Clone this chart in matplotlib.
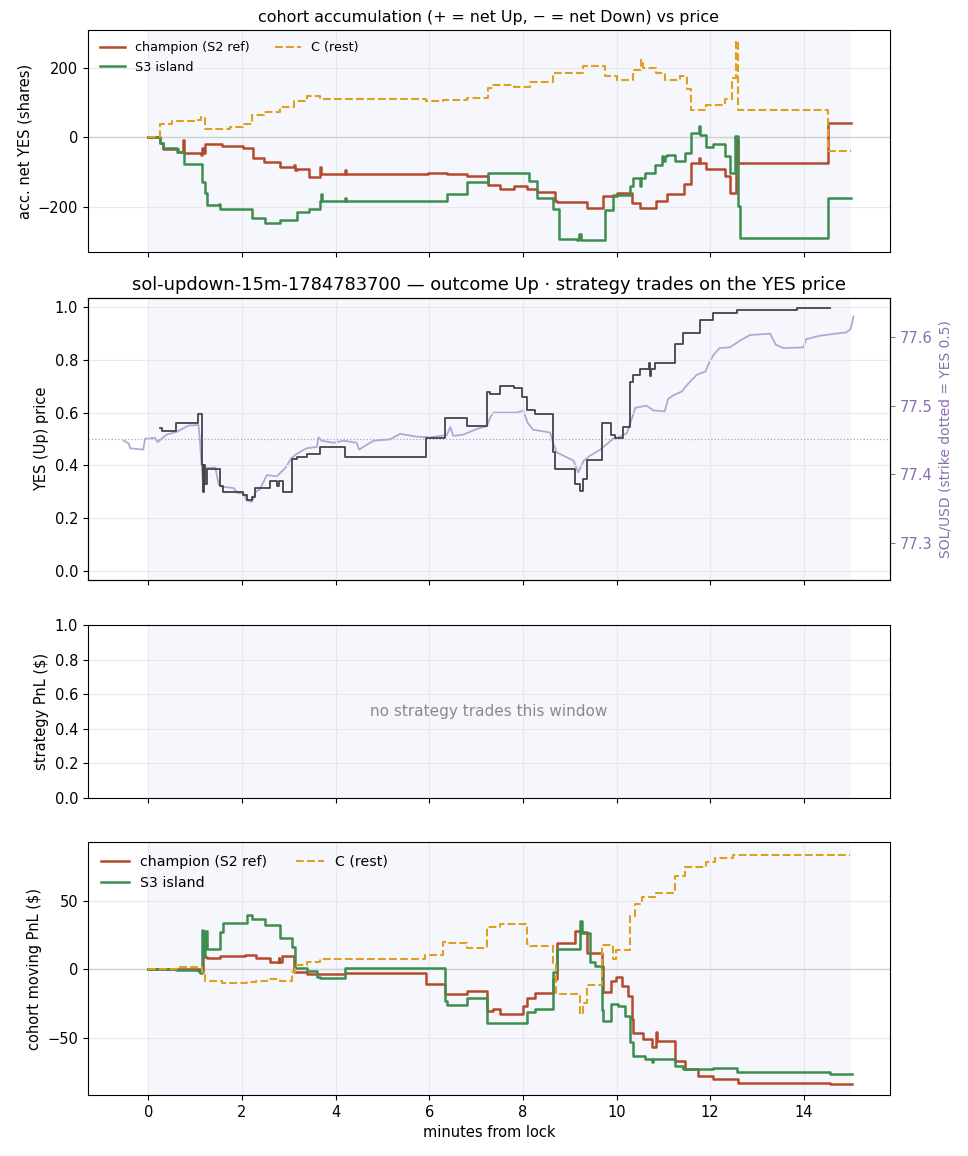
import matplotlib
matplotlib.use("Agg")
import matplotlib.pyplot as plt

# ---------------- data ----------------
# panel 1: accumulated net YES shares (step-post breakpoints)
acc_champ_t = [0, 0.24, 0.32, 0.64, 0.74, 0.76, 1.12, 1.14, 1.17, 1.21, 1.57, 2.03, 2.24, 2.46, 2.81, 3.10, 3.13, 3.17, 3.42, 3.67, 3.69, 4.20, 4.22, 5.98, 6.37, 6.80, 7.26, 7.51, 7.80, 8.08, 8.29, 8.69, 8.72, 9.36, 9.72, 10.0, 10.32, 10.50, 10.85, 11.07, 11.43, 11.60, 11.75, 11.78, 11.92, 12.31, 12.42, 12.56, 12.60, 14.52, 15.0]
acc_champ_v = [0, -16, -35, -43, -7, -45, -50, -30, -45, -21, -26, -30, -59, -72, -85, -80, -95, -93, -115, -85, -107, -95, -107, -102, -107, -112, -139, -148, -140, -150, -159, -183, -186, -203, -170, -162, -189, -203, -183, -165, -136, -75, -60, -75, -91, -112, -160, -6, -75, 41, 41]

acc_s3_t = [0, 0.24, 0.32, 0.61, 0.75, 1.14, 1.20, 1.25, 1.50, 1.53, 2.21, 2.49, 2.81, 3.17, 3.42, 3.67, 3.68, 3.70, 4.20, 4.22, 6.37, 6.80, 7.26, 8.12, 8.29, 8.65, 8.76, 9.15, 9.20, 9.23, 9.75, 9.93, 10.29, 10.36, 10.50, 10.52, 10.61, 10.82, 10.96, 11.00, 11.03, 11.07, 11.25, 11.46, 11.58, 11.75, 11.78, 11.92, 12.07, 12.31, 12.42, 12.53, 12.60, 12.63, 14.52, 15.0]
acc_s3_v = [0, -16, -30, -43, -78, -130, -160, -196, -192, -206, -234, -246, -238, -215, -208, -184, -165, -184, -175, -184, -165, -129, -104, -126, -174, -208, -294, -296, -280, -296, -211, -167, -140, -117, -140, -117, -104, -79, -55, -70, -55, -50, -69, -45, 12, 31, 7, -27, -21, -55, -104, 2, -199, -292, -174, -174]

acc_c_t = [0, 0.24, 0.50, 1.05, 1.12, 1.21, 1.75, 2.03, 2.21, 2.46, 2.81, 3.10, 3.38, 3.67, 5.94, 6.30, 6.80, 7.26, 7.37, 7.80, 8.15, 8.65, 9.29, 9.75, 10.0, 10.36, 10.53, 10.56, 10.85, 11.03, 11.36, 11.50, 11.58, 11.92, 12.31, 12.46, 12.55, 12.60, 14.52, 15.0]
acc_c_v = [0, 37, 46, 49, 57, 24, 30, 37, 65, 74, 88, 104, 118, 110, 104, 108, 113, 142, 151, 145, 160, 185, 206, 176, 166, 195, 223, 199, 185, 166, 176, 138, 78, 94, 109, 171, 276, 78, -40, -40]

# panel 2: YES (Up) price and SOL/USD
yes_t = [0.24, 0.29, 0.59, 1.07, 1.14, 1.16, 1.18, 1.20, 1.25, 1.53, 1.60, 2.03, 2.10, 2.21, 2.28, 2.60, 2.75, 2.80, 2.88, 3.06, 3.17, 3.38, 3.67, 4.20, 5.94, 6.34, 6.80, 7.23, 7.30, 7.51, 7.80, 7.97, 8.08, 8.26, 8.65, 8.68, 9.11, 9.22, 9.29, 9.36, 9.68, 9.89, 9.97, 10.14, 10.29, 10.36, 10.50, 10.70, 10.72, 10.74, 10.82, 11.25, 11.42, 11.78, 12.06, 12.57, 13.85, 14.56]
yes_p = [0.543, 0.53, 0.562, 0.594, 0.40, 0.30, 0.40, 0.33, 0.387, 0.323, 0.30, 0.287, 0.269, 0.278, 0.313, 0.34, 0.32, 0.34, 0.30, 0.425, 0.432, 0.444, 0.47, 0.432, 0.502, 0.581, 0.549, 0.678, 0.672, 0.70, 0.693, 0.658, 0.61, 0.594, 0.45, 0.385, 0.33, 0.304, 0.349, 0.419, 0.562, 0.515, 0.504, 0.546, 0.718, 0.744, 0.767, 0.79, 0.74, 0.767, 0.788, 0.862, 0.904, 0.951, 0.979, 0.99, 0.997, 0.997]

sol_t = [-0.53, -0.42, -0.39, -0.11, -0.07, 0.14, 0.20, 0.25, 0.39, 0.61, 0.85, 1.07, 1.10, 1.15, 1.18, 1.21, 1.43, 1.50, 1.57, 1.82, 1.90, 2.03, 2.10, 2.21, 2.30, 2.38, 2.53, 2.74, 2.92, 3.06, 3.17, 3.38, 3.60, 3.63, 3.70, 3.95, 4.17, 4.45, 4.50, 4.59, 4.81, 5.16, 5.38, 5.73, 6.02, 6.37, 6.45, 6.51, 6.73, 7.01, 7.23, 7.30, 7.37, 7.87, 8.01, 8.10, 8.22, 8.58, 8.65, 8.72, 9.08, 9.18, 9.30, 9.43, 9.65, 9.93, 10.10, 10.22, 10.32, 10.40, 10.64, 10.79, 11.03, 11.10, 11.21, 11.40, 11.50, 11.71, 11.90, 11.96, 12.07, 12.20, 12.42, 12.64, 12.85, 13.28, 13.40, 13.56, 13.99, 14.05, 14.34, 14.91, 15.00, 15.06]
sol_p = [77.449, 77.445, 77.438, 77.436, 77.452, 77.453, 77.447, 77.450, 77.458, 77.462, 77.471, 77.472, 77.45, 77.40, 77.375, 77.409, 77.41, 77.385, 77.382, 77.38, 77.373, 77.372, 77.362, 77.36, 77.375, 77.378, 77.399, 77.397, 77.409, 77.424, 77.43, 77.438, 77.44, 77.454, 77.449, 77.446, 77.449, 77.446, 77.436, 77.44, 77.449, 77.451, 77.459, 77.455, 77.454, 77.457, 77.469, 77.456, 77.458, 77.466, 77.47, 77.483, 77.49, 77.49, 77.493, 77.475, 77.465, 77.461, 77.445, 77.432, 77.42, 77.403, 77.42, 77.427, 77.436, 77.452, 77.456, 77.46, 77.48, 77.497, 77.5, 77.493, 77.492, 77.51, 77.515, 77.521, 77.53, 77.545, 77.55, 77.56, 77.574, 77.584, 77.585, 77.595, 77.603, 77.605, 77.589, 77.584, 77.585, 77.597, 77.602, 77.607, 77.612, 77.63]
strike = 77.453

# panel 4: cohort moving PnL ($)
pnl_champ_t = [0, 1.10, 1.17, 1.25, 1.53, 1.60, 2.06, 2.30, 2.60, 2.78, 2.80, 2.85, 3.10, 3.38, 4.20, 5.94, 6.34, 6.80, 7.23, 7.37, 7.51, 8.01, 8.08, 8.26, 8.65, 8.72, 9.11, 9.22, 9.36, 9.68, 9.72, 9.89, 9.99, 10.11, 10.25, 10.32, 10.36, 10.57, 10.75, 10.84, 10.86, 11.25, 11.46, 11.74, 12.07, 12.60, 14.56, 15.02]
pnl_champ_v = [0, -2, 9, 8, 9.3, 9.8, 10.5, 8, 5.6, 8, 5.6, 9.3, -2, -3.7, -3, -10.5, -18, -16, -30.5, -29, -33, -27, -21, -17.6, -7, 19, 28.2, 27, 11.6, 2, -17, -8.5, -6, -12, -19.6, -36.6, -46.4, -51, -57, -46, -52.5, -67.3, -72.9, -77.8, -80.2, -83.2, -84, -84]

pnl_s3_t = [0, 0.60, 1.05, 1.10, 1.14, 1.17, 1.20, 1.25, 1.53, 1.60, 2.10, 2.21, 2.49, 2.81, 3.06, 3.13, 3.38, 3.60, 3.67, 4.20, 6.34, 6.37, 6.80, 7.23, 8.08, 8.26, 8.65, 8.72, 9.20, 9.22, 9.27, 9.43, 9.54, 9.68, 9.72, 9.89, 10.04, 10.18, 10.29, 10.36, 10.61, 10.75, 10.77, 11.25, 11.42, 12.07, 12.20, 12.57, 14.56, 15.02]
pnl_s3_v = [0, -0.5, -1, -3, 29, 10, 28, 15, 27, 33.6, 39.5, 37, 32, 23, 16, 1.2, -1.2, -6, -6.8, 1, -23, -26, -21, -39, -31.3, -28.8, -2, 14.7, 14.7, 35.4, 26.1, 5.4, 2.4, -30, -37.8, -25.6, -27, -34, -53.6, -63.5, -66, -68, -66, -70.9, -72.9, -72.5, -72, -75, -77, -77]

pnl_c_t = [0, 0.05, 0.61, 1.14, 1.21, 1.57, 2.10, 2.30, 2.53, 2.81, 3.06, 3.13, 3.38, 3.67, 5.91, 6.30, 6.37, 6.80, 7.23, 7.51, 8.08, 8.15, 8.65, 8.70, 9.22, 9.29, 9.36, 9.68, 9.93, 9.99, 10.29, 10.39, 10.54, 10.82, 11.25, 11.46, 11.92, 12.10, 12.49, 14.98]
pnl_c_v = [0, 0.5, 1.7, -2.4, -8.5, -9.8, -9.5, -8.5, -7, -8.5, -2.4, 2.9, 4.9, 7.8, 10.5, 19.6, 19, 15.4, 30.6, 33, 18.3, 17, 3, -18.3, -33, -25, -11.7, 17.6, 7.3, 13.9, 39, 47.6, 52.5, 56, 68, 74.5, 78.7, 81, 83.6, 83.6]

cohort_names = ["champion (S2 ref)", "S3 island", "C (rest)"]
win_start, win_end = 0, 15

# ---------------- style ----------------
C_RED = "#b4492b"
C_GREEN = "#3d8e4e"
C_GOLD = "#dea01e"
C_DARK = "#444444"
C_LAV = "#b7a5d5"
C_PURP = "#8c6eaf"
SPAN = "#f5f7fc"
GRID = "#e8e8ec"
TICK = 10.5
LAB = 10.5

fig = plt.figure(figsize=(9.68, 11.56), dpi=100)
L, W = 88 / 968, (890 - 88) / 968
H = 1156
def box(top, bot):
    return [L, 1 - bot / H, W, (bot - top) / H]

ax1 = fig.add_axes(box(30, 252))
ax2 = fig.add_axes(box(298, 580), sharex=ax1)
ax3 = fig.add_axes(box(625, 798), sharex=ax1)
ax4 = fig.add_axes(box(842, 1095), sharex=ax1)
ax2r = ax2.twinx()

# shaded window (on the twin for panel 2 so the SOL line stays visible)
for ax in (ax1, ax2r, ax3, ax4):
    ax.axvspan(win_start, win_end, color=SPAN, zorder=0, lw=0)
for ax in (ax1, ax2, ax3, ax4):
    ax.grid(True, color=GRID, lw=0.8, zorder=1)
    ax.set_axisbelow(True)
    ax.tick_params(labelsize=TICK)

# panel 1
ax1.axhline(0, color="#d0d0d0", lw=1.0, zorder=2)
ax1.plot(acc_champ_t, acc_champ_v, drawstyle="steps-post", color=C_RED, lw=1.8, label=cohort_names[0], zorder=3)
ax1.plot(acc_s3_t, acc_s3_v, drawstyle="steps-post", color=C_GREEN, lw=1.8, label=cohort_names[1], zorder=3)
ax1.plot(acc_c_t, acc_c_v, drawstyle="steps-post", color=C_GOLD, lw=1.5, ls="--", label=cohort_names[2], zorder=3)
ax1.set_ylim(-331, 309)
ax1.set_yticks([-200, 0, 200])
ax1.set_ylabel("acc. net YES (shares)", fontsize=LAB)
ax1.set_title("cohort accumulation (+ = net Up, \u2212 = net Down) vs price", fontsize=11.4)
ax1.legend(loc="upper left", ncol=2, fontsize=9.2, frameon=False)

# panel 2
ax2r.plot(sol_t, sol_p, color=C_LAV, lw=1.3, zorder=3)
ax2r.set_ylim(77.246, 77.657)
ax2r.set_yticks([77.3, 77.4, 77.5, 77.6])
ax2r.tick_params(axis="y", colors=C_PURP, labelsize=TICK)
ax2r.set_ylabel("SOL/USD (strike dotted = YES 0.5)", color=C_PURP, fontsize=10)
ax2.set_zorder(ax2r.get_zorder() + 1)
ax2.patch.set_visible(False)
ax2.axhline(0.5, color="#aaaaaa", lw=0.9, ls=":", zorder=2)
ax2.plot(yes_t, yes_p, drawstyle="steps-post", color=C_DARK, lw=1.3, zorder=4)
ax2.set_ylim(-0.036, 1.036)
ax2.set_yticks([0, 0.2, 0.4, 0.6, 0.8, 1.0])
ax2.set_ylabel("YES (Up) price", fontsize=LAB)
ax2.set_title("sol-updown-15m-1784783700 \u2014 outcome Up \u00b7 strategy trades on the YES price", fontsize=12.9)

# panel 3
ax3.set_ylim(0, 1)
ax3.set_yticks([0, 0.2, 0.4, 0.6, 0.8, 1.0])
ax3.set_ylabel("strategy PnL ($)", fontsize=LAB)
ax3.text(0.5, 0.5, "no strategy trades this window", transform=ax3.transAxes,
         ha="center", va="center", color="#8a8a8a", fontsize=11)

# panel 4
ax4.axhline(0, color="#d0d0d0", lw=1.0, zorder=2)
ax4.plot(pnl_champ_t, pnl_champ_v, drawstyle="steps-post", color=C_RED, lw=1.8, label=cohort_names[0], zorder=3)
ax4.plot(pnl_s3_t, pnl_s3_v, drawstyle="steps-post", color=C_GREEN, lw=1.8, label=cohort_names[1], zorder=3)
ax4.plot(pnl_c_t, pnl_c_v, drawstyle="steps-post", color=C_GOLD, lw=1.5, ls="--", label=cohort_names[2], zorder=3)
ax4.set_ylim(-92, 93)
ax4.set_yticks([-50, 0, 50])
ax4.set_ylabel("cohort moving PnL ($)", fontsize=LAB)
ax4.set_xlabel("minutes from lock", fontsize=LAB)
ax4.legend(loc="upper left", ncol=2, fontsize=10.2, frameon=False)

ax1.set_xlim(-1.29, 15.84)
ax1.set_xticks([0, 2, 4, 6, 8, 10, 12, 14])
for ax in (ax1, ax2, ax3):
    plt.setp(ax.get_xticklabels(), visible=False)

fig.savefig("out.png", dpi=100)
